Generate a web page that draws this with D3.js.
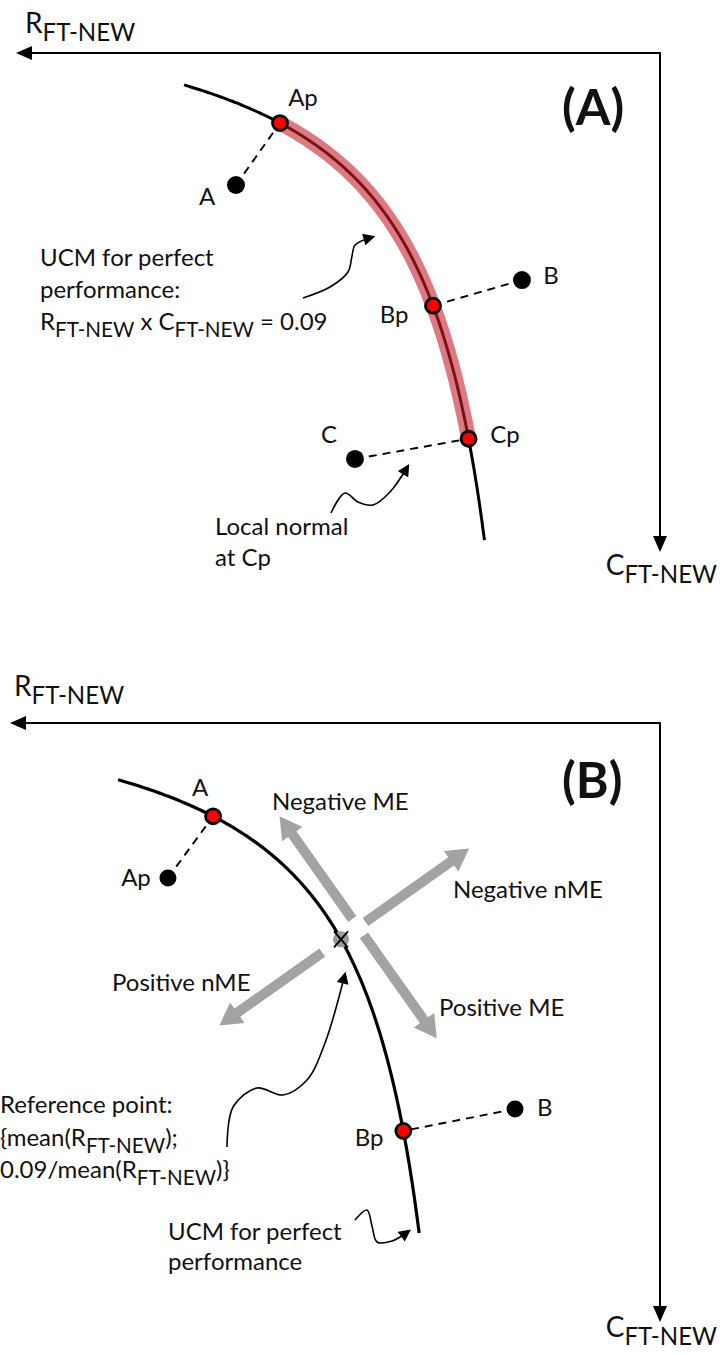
<!DOCTYPE html>
<html>
<head>
<meta charset="utf-8">
<script src="https://cdn.jsdelivr.net/npm/d3@7"></script>
<style>
  body { margin: 0; background: #fff; }
  svg { display: block; }
  text { font-family: Lato, "Open Sans", sans-serif; fill: #111; }
</style>
</head>
<body>
<svg id="chart" width="720" height="1355"></svg>
<script>
// UCM for perfect performance: R x C = 0.09
const PRODUCT = 0.09;

// Panel A: UCM segment, highlighted stretch and three trials with their projections
const aCurveR = [0.5526, 0.1075];
const aBandR = [0.4104, 0.1310];
const aTrialNames = ["A", "B", "C"];
const aTrialR = [0.4756, 0.0519, 0.2993];
const aTrialC = [0.3111, 0.4519, 0.7170];
const aProjNames = ["Ap", "Bp", "Cp"];
const aProjR = [0.4104, 0.1837, 0.1310];

// Panel B: UCM, reference point at mean(R) and two trials
const bCurveR = [0.5600, 0.1067];
const bMeanR = 0.2244;
const bOnNames = ["A", "Bp"];
const bOnR = [0.4170, 0.1305];
const bOffNames = ["Ap", "B"];
const bOffR = [0.4850, -0.0377];
const bOffC = [0.3087, 0.6566];
const errorLabels = ["Negative ME", "Positive ME", "Negative nME", "Positive nME"];

const svg = d3.select("#chart");

// scales: R grows to the left, C grows downward
const ax = d3.scaleLinear().domain([0, 1]).range([557, 557 - 675]);
const ay = d3.scaleLinear().domain([0, 1]).range([-25, 650]);
const bx = d3.scaleLinear().domain([0, 1]).range([490, 490 - 664]);
const by = d3.scaleLinear().domain([0, 1]).range([673, 673 + 664]);

const ucm = r => PRODUCT / r;
function ucmSamples(r0, r1, n = 120) {
  return d3.range(n + 1).map(i => r0 + (r1 - r0) * i / n);
}

const FS = 24;          // body text size
const AXFS = 28;        // axis title size
const SUB = "FT-NEW";

const defs = svg.append("defs");
defs.append("marker")
  .attr("id", "tip")
  .attr("viewBox", "0 0 10 10")
  .attr("refX", 8).attr("refY", 5)
  .attr("markerWidth", 13).attr("markerHeight", 12)
  .attr("markerUnits", "userSpaceOnUse")
  .attr("orient", "auto")
  .append("path").attr("d", "M0,0 L10,5 L0,10 Z").attr("fill", "#000");

// axis frame: arrow pointing left for R, down for C
function axes(x0, y0, xTip, yTip) {
  svg.append("path")
    .attr("d", `M${xTip + 14},${y0} H${x0} V${yTip - 14}`)
    .attr("fill", "none").attr("stroke", "#000").attr("stroke-width", 2);
  svg.append("path")
    .attr("d", `M${xTip},${y0} L${xTip + 16},${y0 - 7} L${xTip + 16},${y0 + 7} Z`)
    .attr("fill", "#000");
  svg.append("path")
    .attr("d", `M${x0},${yTip} L${x0 - 7},${yTip - 16} L${x0 + 7},${yTip - 16} Z`)
    .attr("fill", "#000");
}

// text with subscripts; parts = [[string, isSub], ...]
function rich(x, y, parts, size, anchor) {
  const t = svg.append("text").attr("x", x).attr("y", y)
    .attr("text-anchor", anchor || "start")
    .style("font-size", size + "px");
  let lowered = false;
  const shift = Math.round(size * 0.28);
  parts.forEach(([s, sub]) => {
    const sp = t.append("tspan").text(s);
    if (sub && !lowered) { sp.attr("dy", shift); lowered = true; }
    else if (!sub && lowered) { sp.attr("dy", -shift); lowered = false; }
    sp.style("font-size", (sub ? size * 0.86 : size) + "px");
  });
  return t;
}

function label(x, y, s, size, anchor) {
  return svg.append("text").attr("x", x).attr("y", y)
    .attr("text-anchor", anchor || "start")
    .style("font-size", size + "px").text(s);
}

const curveLine = (sx, sy) => d3.line().x(r => sx(r)).y(r => sy(ucm(r)));

function squiggle(pts) {
  svg.append("path")
    .attr("d", d3.line().curve(d3.curveCatmullRom.alpha(0.5))(pts))
    .attr("fill", "none").attr("stroke", "#000").attr("stroke-width", 1.6)
    .attr("marker-end", "url(#tip)");
}

function dashed(x1, y1, x2, y2) {
  svg.append("line").attr("x1", x1).attr("y1", y1).attr("x2", x2).attr("y2", y2)
    .attr("stroke", "#000").attr("stroke-width", 1.9).attr("stroke-dasharray", "8,6");
}

function blackDot(x, y, r) {
  svg.append("circle").attr("cx", x).attr("cy", y).attr("r", r || 9).attr("fill", "#000");
}
function redDot(x, y) {
  svg.append("circle").attr("cx", x).attr("cy", y).attr("r", 7.5)
    .attr("fill", "#ff0000").attr("stroke", "#000").attr("stroke-width", 2.8);
}

/* ---------------- Panel A ---------------- */
axes(660, 53, 16, 552);
rich(25, 33, [["R", false], [SUB, true]], AXFS);
rich(717, 575, [["C", false], [SUB, true]], AXFS, "end");
label(562, 125, "(A)", 50).style("font-weight", "bold");

svg.append("path")
  .attr("d", curveLine(ax, ay)(ucmSamples(aCurveR[0], aCurveR[1])))
  .attr("fill", "none").attr("stroke", "#000").attr("stroke-width", 3);
svg.append("path")
  .attr("d", curveLine(ax, ay)(ucmSamples(aBandR[0], aBandR[1])))
  .attr("fill", "none").attr("stroke", "rgb(200,30,45)").attr("stroke-opacity", 0.6)
  .attr("stroke-width", 15).attr("stroke-linecap", "butt");

aTrialNames.forEach((n, i) => {
  dashed(ax(aTrialR[i]), ay(aTrialC[i]), ax(aProjR[i]), ay(ucm(aProjR[i])));
});
aTrialNames.forEach((n, i) => blackDot(ax(aTrialR[i]), ay(aTrialC[i])));
aProjNames.forEach((n, i) => redDot(ax(aProjR[i]), ay(ucm(aProjR[i]))));

const aTrialLabelPos = [[207, 205], [551, 284], [329, 443]];
aTrialNames.forEach((n, i) => label(aTrialLabelPos[i][0], aTrialLabelPos[i][1], n, FS, "middle"));
const aProjLabelPos = [[303, 106], [394, 323], [505, 443]];
aProjNames.forEach((n, i) => label(aProjLabelPos[i][0], aProjLabelPos[i][1], n, FS, "middle"));

label(40, 266, "UCM for perfect", FS);
label(40, 298, "performance:", FS);
rich(40, 330, [["R", false], [SUB, true], [" x C", false], [SUB, true], [" = 0.09", false]], FS);
squiggle([[303, 298], [330, 287], [348, 272], [352, 256], [355, 245], [373, 237]]);

label(215, 535, "Local normal", FS);
label(215, 566, "at Cp", FS);
squiggle([[331, 513], [345, 493], [358, 502], [373, 505], [390, 492], [408, 466]]);

/* ---------------- Panel B ---------------- */
axes(660, 723, 10, 1322);
rich(14, 696, [["R", false], [SUB, true]], AXFS);
rich(717, 1337, [["C", false], [SUB, true]], AXFS, "end");
label(562, 798, "(B)", 50).style("font-weight", "bold");

svg.append("path")
  .attr("d", curveLine(bx, by)(ucmSamples(bCurveR[0], bCurveR[1])))
  .attr("fill", "none").attr("stroke", "#000").attr("stroke-width", 3.2);

// error-direction arrows around the reference point
const refX = bx(bMeanR), refY = by(ucm(bMeanR));
const ang = 54.7 * Math.PI / 180;
const tan = [Math.cos(ang), Math.sin(ang)];       // along the UCM, downward
const nrm = [Math.sin(ang), -Math.cos(ang)];      // across the UCM, up-right
const cx0 = refX + 21 * nrm[0], cy0 = refY + 21 * nrm[1];

function fatArrow(dir, from, to) {
  const w = 5, hw = 12.5, hl = 22;
  const p = [-dir[1], dir[0]];
  const at = (d, o) => [cx0 + dir[0] * d + p[0] * o, cy0 + dir[1] * d + p[1] * o];
  const pts = [at(from, -w), at(to - hl, -w), at(to - hl, -hw), at(to, 0),
               at(to - hl, hw), at(to - hl, w), at(from, w)];
  svg.append("path").attr("d", "M" + pts.map(q => q.join(",")).join("L") + "Z")
    .attr("fill", "#a3a3a3");
}
fatArrow([-tan[0], -tan[1]], 10, 136);   // Negative ME
fatArrow(tan, 10, 136);                   // Positive ME
fatArrow(nrm, 9, 136);                    // Negative nME
fatArrow([-nrm[0], -nrm[1]], 44, 170);    // Positive nME

const errPos = [[272, 810], [439, 1016], [453, 898], [112, 991]];
errorLabels.forEach((s, i) => label(errPos[i][0], errPos[i][1], s, FS));

svg.append("circle").attr("cx", refX).attr("cy", refY).attr("r", 8).attr("fill", "#9a9a9a");
svg.append("path")
  .attr("d", `M${refX - 7},${refY - 8}L${refX + 7},${refY + 8}M${refX + 7},${refY - 8}L${refX - 7},${refY + 8}`)
  .attr("stroke", "#000").attr("stroke-width", 1.8);

dashed(bx(bOffR[0]), by(bOffC[0]), bx(bOnR[0]), by(ucm(bOnR[0])));
dashed(bx(bOffR[1]), by(bOffC[1]), bx(bOnR[1]), by(ucm(bOnR[1])));
bOffNames.forEach((n, i) => blackDot(bx(bOffR[i]), by(bOffC[i]), 8.5));
bOnNames.forEach((n, i) => redDot(bx(bOnR[i]), by(ucm(bOnR[i]))));

label(200, 796, "A", FS, "middle");
label(136, 886, "Ap", FS, "middle");
label(369, 1146, "Bp", FS, "middle");
label(537, 1116, "B", FS, "start");

label(0, 1113, "Reference point:", FS);
rich(0, 1146, [["{mean(R", false], [SUB, true], [");", false]], FS);
rich(0, 1178, [["0.09/mean(R", false], [SUB, true], [")}", false]], FS);
squiggle([[227, 1147], [233, 1107], [257, 1088], [283, 1095], [307, 1080], [325, 1043], [345, 974]]);

label(168, 1240, "UCM for perfect", FS);
label(168, 1270, "performance", FS);
squiggle([[355, 1220], [367, 1210], [372, 1226], [377, 1242], [392, 1241], [409, 1231]]);
</script>
</body>
</html>
